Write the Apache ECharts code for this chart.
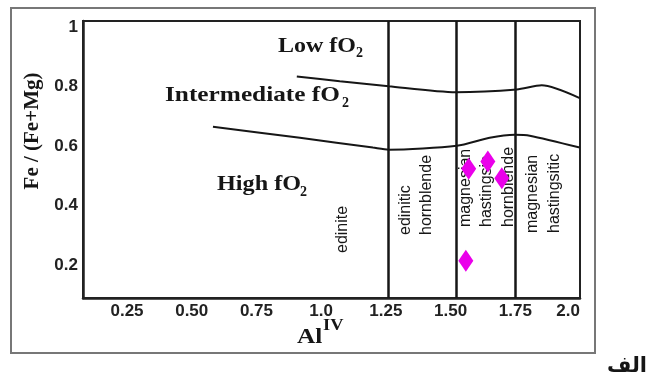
<!DOCTYPE html>
<html>
<head>
<meta charset="utf-8">
<script src="https://cdn.jsdelivr.net/npm/echarts@6/dist/echarts.min.js"></script>
<style>
  html, body { margin: 0; background: #fff; }
  #chart { width: 648px; height: 378px; }
</style>
</head>
<body>
<div id="chart"></div>
<script>
// === Ticks ===================================================================
const xTicks      = [0.25, 0.5, 0.75, 1.0, 1.25, 1.5, 1.75, 2.0];
const xTickLabels = ['0.25', '0.50', '0.75', '1.0', '1.25', '1.50', '1.75', '2.0'];
const yTicks      = [0.2, 0.4, 0.6, 0.8, 1];
const yTickLabels = ['0.2', '0.4', '0.6', '0.8', '1'];

// === Field boundaries ========================================================
// Low / Intermediate fO2
const upperX = [0.906, 1.072, 1.261, 1.52, 1.756, 1.852, 1.999];
const upperY = [0.834, 0.818, 0.801, 0.781, 0.790, 0.804, 0.761];
// Intermediate / High fO2
const lowerX = [0.582, 0.918, 1.20, 1.261, 1.524, 1.651, 1.748, 1.806, 1.999];
const lowerY = [0.665, 0.628, 0.595, 0.588, 0.601, 0.628, 0.638, 0.635, 0.595];
// amphibole type limits (Al IV)
const typeLimits = [1.26, 1.52, 1.755];

// === Samples =================================================================
const sampleX = [1.570, 1.644, 1.698, 1.559];
const sampleY = [0.524, 0.548, 0.492, 0.215];

const pairs = (xs, ys) => xs.map((x, i) => [x, ys[i]]);

// === Styles ==================================================================
const ink = '#161616';
const serif = 'Liberation Serif';
const sans = 'Liberation Sans';

function txt(text, x, y, o = {}) {
  return {
    type: 'text', x, y, rotation: o.rot || 0, scaleX: o.sx || 1, z: 1,
    style: {
      text, fill: o.color || ink,
      font: `${o.weight || 'bold'} ${o.size || 20}px "${o.family || serif}"`,
      lineHeight: o.lh, align: o.align || 'left', verticalAlign: 'middle',
      textAlign: o.align || 'left', textVerticalAlign: 'middle'
    }
  };
}
const vert = (text, x, y, lh) => txt(text, x, y, { rot: Math.PI / 2, family: sans, weight: 'normal', size: 16, lh });

const option = {
  animation: false,
  grid: { left: 83, right: 68, top: 21, bottom: 80, show: true, borderColor: '#222', borderWidth: 2 },
  xAxis: {
    type: 'value', min: 0.08, max: 2.0,
    axisLine: { lineStyle: { color: '#222', width: 2.5 } },
    axisTick: { show: false },
    splitLine: { show: false },
    axisLabel: {
      customValues: xTicks, margin: 5, alignMaxLabel: 'right',
      color: '#222', fontFamily: sans, fontWeight: 'bold', fontSize: 17,
      formatter: v => xTickLabels[xTicks.findIndex(t => Math.abs(t - v) < 1e-6)] ?? ''
    }
  },
  yAxis: {
    type: 'value', min: 0.09, max: 1.02,
    axisLine: { lineStyle: { color: '#222', width: 2.5 } },
    axisTick: { show: false },
    splitLine: { show: false },
    axisLabel: {
      customValues: yTicks, margin: 5,
      color: '#222', fontFamily: sans, fontWeight: 'bold', fontSize: 17,
      formatter: v => yTickLabels[yTicks.findIndex(t => Math.abs(t - v) < 1e-6)] ?? ''
    }
  },
  series: [
    { type: 'line', data: pairs(upperX, upperY), symbol: 'none', smooth: 0.25,
      lineStyle: { color: ink, width: 2 }, silent: true },
    { type: 'line', data: pairs(lowerX, lowerY), symbol: 'none', smooth: 0.25,
      lineStyle: { color: ink, width: 2 }, silent: true },
    { type: 'scatter', data: pairs(sampleX, sampleY), symbol: 'diamond', symbolSize: [15, 22],
      itemStyle: { color: '#ea00ea', opacity: 1 }, z: 10,
      markLine: {
        silent: true, symbol: 'none', label: { show: false },
        lineStyle: { color: ink, width: 2.5, type: 'solid', opacity: 1 },
        data: typeLimits.map(v => ({ xAxis: v }))
      } }
  ],
  graphic: [
    { type: 'rect', z: 0, shape: { x: 11, y: 8, width: 584, height: 345 },
      style: { fill: 'none', stroke: '#777', lineWidth: 2 } },
    txt('Fe / (Fe+Mg)', 33, 131, { rot: Math.PI / 2, size: 21, align: 'center' }),
    txt('Al', 297, 337, { size: 22, sx: 1.15 }),
    txt('IV', 323, 326, { size: 16, sx: 1.15 }),
    txt('Low fO', 278, 47, { size: 20, sx: 1.2 }),
    txt('2', 356, 53, { size: 14 }),
    txt('Intermediate fO', 165, 95, { size: 22, sx: 1.15 }),
    txt('2', 342, 103, { size: 14 }),
    txt('High fO', 217, 184, { size: 22, sx: 1.1 }),
    txt('2', 300, 192, { size: 14 }),
    vert('edinite', 343, 253),
    vert('edinitic\nhornblende', 416, 235, 21),
    vert('magnesian\nhastingsic\nhornblende', 487, 227, 21.5),
    vert('magnesian\nhastingsitic', 544, 233, 22),
    txt('الف', 647, 367, { family: 'DejaVu Sans', size: 21, align: 'right' })
  ]
};

const chart = echarts.init(document.getElementById('chart'));
chart.setOption(option);
</script>
</body>
</html>
